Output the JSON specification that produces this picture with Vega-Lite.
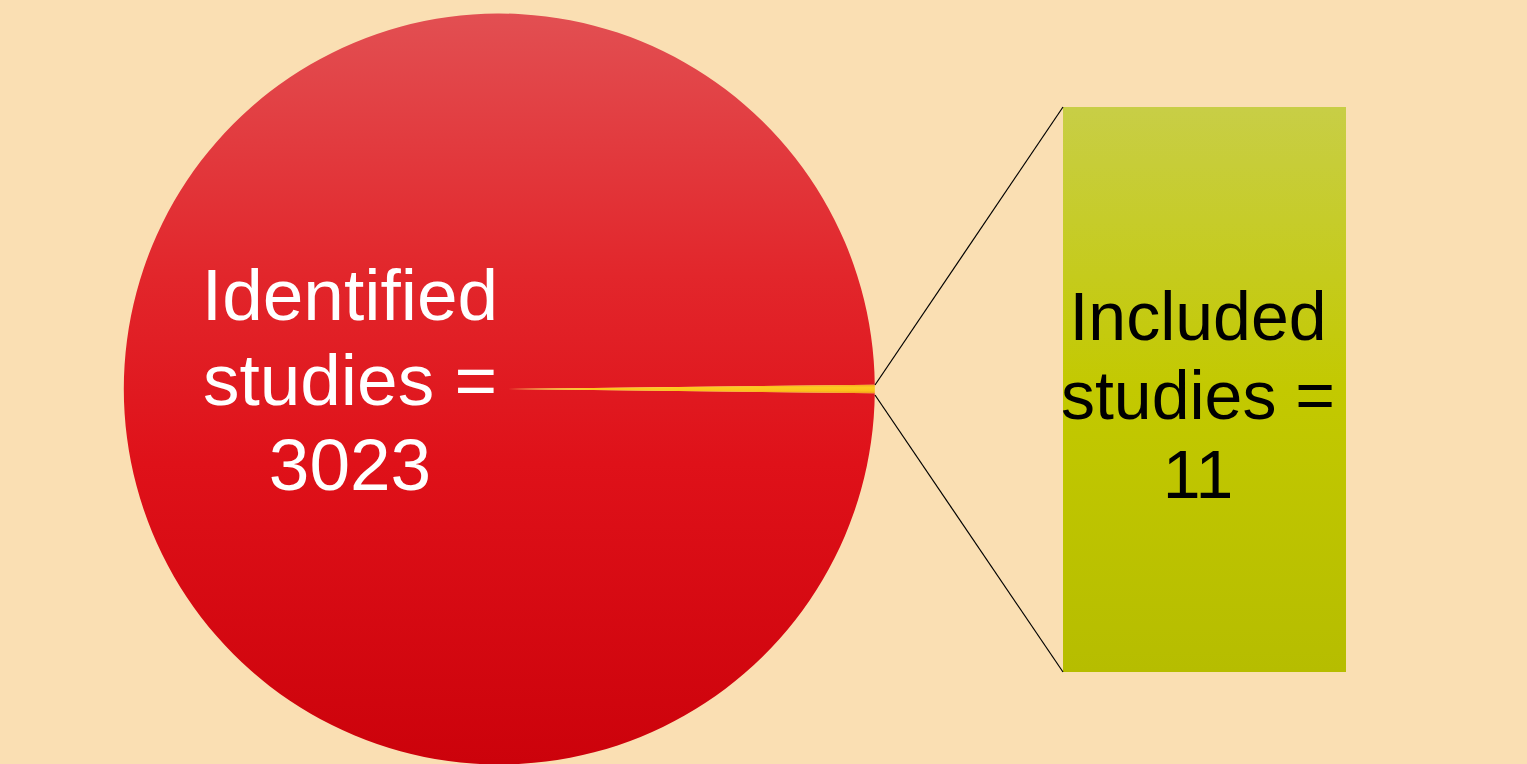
{
  "$schema": "https://vega.github.io/schema/vega-lite/v6.json",
  "width": 1527,
  "height": 764,
  "autosize": {"type": "none"},
  "padding": 0,
  "background": "#fadfb3",
  "config": {"view": {"stroke": null}, "axis": {"disable": true}},
  "data": {
    "values": [
      {"category": "Identified studies", "count": 3023, "label": "Identified\nstudies =\n3023"},
      {"category": "Included studies", "count": 11, "label": "Included\nstudies =\n11"}
    ]
  },
  "layer": [
    {
      "mark": {"type": "arc", "outerRadius": 375.5, "stroke": null},
      "encoding": {
        "theta": {"field": "count", "type": "quantitative", "stack": true, "scale": {"range": [1.55941, 7.84259]}},
        "order": {"field": "category", "sort": "descending"},
        "x": {"datum": 499.3, "type": "quantitative", "scale": {"domain": [0, 1527], "nice": false}, "axis": null},
        "y": {"datum": 389, "type": "quantitative", "scale": {"domain": [0, 764], "nice": false, "reverse": true}, "axis": null},
        "color": {
          "condition": {
            "test": "datum.category === 'Included studies'",
            "value": {"gradient": "linear", "x1": 0, "y1": 0, "x2": 0, "y2": 1, "stops": [{"offset": 0, "color": "#f5a623"}, {"offset": 0.3, "color": "#fdca22"}, {"offset": 0.7, "color": "#fcc21c"}, {"offset": 1, "color": "#f29a20"}]}
          },
          "value": {"gradient": "linear", "x1": 0, "y1": 0, "x2": 0, "y2": 1, "stops": [{"offset": 0, "color": "#e24f52"}, {"offset": 0.35, "color": "#e2262b"}, {"offset": 0.6, "color": "#df1119"}, {"offset": 1, "color": "#cc020b"}]}
        }
      }
    },
    {
      "transform": [{"filter": "datum.category === 'Included studies'"}],
      "mark": {"type": "rect", "color": {"gradient": "linear", "x1": 0, "y1": 0, "x2": 0, "y2": 1, "stops": [{"offset": 0, "color": "#c8ce46"}, {"offset": 0.5, "color": "#c3c900"}, {"offset": 1, "color": "#b6bd00"}]}},
      "encoding": {
        "x": {"datum": 1063, "type": "quantitative", "scale": {"domain": [0, 1527], "nice": false}, "axis": null},
        "x2": {"datum": 1346},
        "y": {"datum": 107, "type": "quantitative", "scale": {"domain": [0, 764], "nice": false, "reverse": true}, "axis": null},
        "y2": {"datum": 672}
      }
    },
    {
      "transform": [{"filter": "datum.category === 'Included studies'"}],
      "mark": {"type": "rule", "color": "#000000", "strokeWidth": 1.2},
      "encoding": {
        "x": {"datum": 875, "type": "quantitative", "scale": {"domain": [0, 1527], "nice": false}, "axis": null},
        "x2": {"datum": 1063},
        "y": {"datum": 385, "type": "quantitative", "scale": {"domain": [0, 764], "nice": false, "reverse": true}, "axis": null},
        "y2": {"datum": 107}
      }
    },
    {
      "transform": [{"filter": "datum.category === 'Included studies'"}],
      "mark": {"type": "rule", "color": "#000000", "strokeWidth": 1.2},
      "encoding": {
        "x": {"datum": 875, "type": "quantitative", "scale": {"domain": [0, 1527], "nice": false}, "axis": null},
        "x2": {"datum": 1063},
        "y": {"datum": 395, "type": "quantitative", "scale": {"domain": [0, 764], "nice": false, "reverse": true}, "axis": null},
        "y2": {"datum": 672}
      }
    },
    {
      "transform": [{"filter": "datum.category === 'Identified studies'"}],
      "mark": {"type": "text", "font": "Liberation Sans", "fontSize": 73, "color": "#ffffff", "align": "center", "baseline": "alphabetic", "lineBreak": "\n", "lineHeight": 85},
      "encoding": {
        "x": {"datum": 350, "type": "quantitative", "scale": {"domain": [0, 1527], "nice": false}, "axis": null},
        "y": {"datum": 320, "type": "quantitative", "scale": {"domain": [0, 764], "nice": false, "reverse": true}, "axis": null},
        "text": {"field": "label"}
      }
    },
    {
      "transform": [{"filter": "datum.category === 'Included studies'"}],
      "mark": {"type": "text", "font": "Liberation Sans", "fontSize": 68, "color": "#000000", "align": "center", "baseline": "alphabetic", "lineBreak": "\n", "lineHeight": 79},
      "encoding": {
        "x": {"datum": 1198, "type": "quantitative", "scale": {"domain": [0, 1527], "nice": false}, "axis": null},
        "y": {"datum": 340, "type": "quantitative", "scale": {"domain": [0, 764], "nice": false, "reverse": true}, "axis": null},
        "text": {"field": "label"}
      }
    }
  ]
}
